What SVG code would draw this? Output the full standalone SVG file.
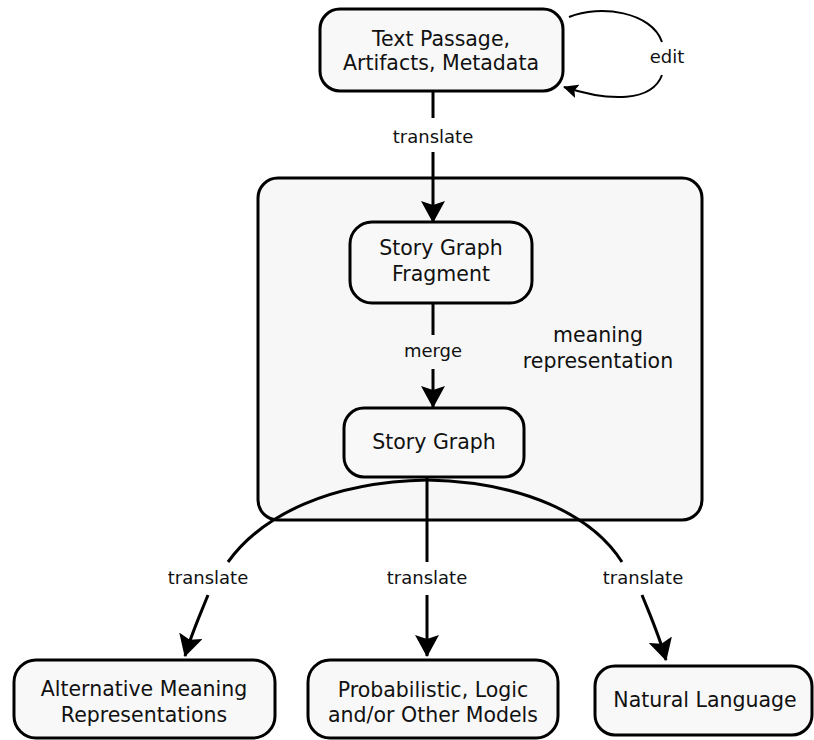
<svg xmlns="http://www.w3.org/2000/svg" width="814" height="740" viewBox="0 0 814 740">
<style>
.box{fill:#f8f8f8;stroke:#000;stroke-width:3}
.cont{fill:#f7f7f7;stroke:#000;stroke-width:3}
.nt{font-family:"DejaVu Sans",sans-serif;font-size:20.5px;fill:#111;text-anchor:middle}
.lb{font-family:"DejaVu Sans",sans-serif;font-size:18px;fill:#111;text-anchor:middle}
.ed{fill:none;stroke:#000;stroke-width:3}
.ed2{fill:none;stroke:#000;stroke-width:2}
</style>
<defs>
<marker id="ah" markerUnits="userSpaceOnUse" viewBox="0 0 22 24" markerWidth="22" markerHeight="24" refX="21" refY="12" orient="auto">
<path d="M0,0 L22,12 L0,24 L4,12 Z" fill="#000"/>
</marker>
<marker id="ahs" markerUnits="userSpaceOnUse" viewBox="0 0 15 14" markerWidth="15" markerHeight="14" refX="14" refY="7" orient="auto">
<path d="M0,0 L15,7 L0,14 L3,7 Z" fill="#000"/>
</marker>
</defs>
<g id="meaning-representation">
<rect class="cont" x="258" y="178" width="444" height="342" rx="20"/>
<text class="nt" x="598" y="342">meaning</text>
<text class="nt" x="598" y="368">representation</text>
</g>
<g id="text-passage">
<rect class="box" x="320" y="9" width="243" height="82" rx="20"/>
<text class="nt" x="441" y="46">Text Passage,</text>
<text class="nt" x="441" y="70">Artifacts, Metadata</text>
</g>
<g id="story-graph-fragment">
<rect class="box" x="350" y="222" width="182" height="81" rx="22"/>
<text class="nt" x="441" y="255">Story Graph</text>
<text class="nt" x="441" y="281">Fragment</text>
</g>
<g id="story-graph">
<rect class="box" x="344" y="408" width="180" height="69" rx="20"/>
<text class="nt" x="434" y="449">Story Graph</text>
</g>
<g id="alternative">
<rect class="box" x="14" y="660" width="261" height="78" rx="22"/>
<text class="nt" x="144" y="696">Alternative Meaning</text>
<text class="nt" x="144" y="722">Representations</text>
</g>
<g id="probabilistic">
<rect class="box" x="308" y="660" width="250" height="78" rx="22"/>
<text class="nt" x="433" y="697">Probabilistic, Logic</text>
<text class="nt" x="433" y="722">and/or Other Models</text>
</g>
<g id="natural-language">
<rect class="box" x="595" y="666" width="217" height="69" rx="20"/>
<text class="nt" x="705" y="707">Natural Language</text>
</g>
<g id="connectors">
<path class="ed2" d="M569,17 C600,4 652,12 662,42"/>
<path class="ed2" d="M662,75 C652,102 610,102 564,87" marker-end="url(#ahs)"/>
<text class="lb" x="667" y="63">edit</text>
<path class="ed" d="M433,91 L433,118"/>
<text class="lb" x="433" y="143">translate</text>
<path class="ed" d="M433,152 L433,222" marker-end="url(#ah)"/>
<path class="ed" d="M433,303 L433,335"/>
<text class="lb" x="433" y="357">merge</text>
<path class="ed" d="M433,369 L433,407" marker-end="url(#ah)"/>
<path class="ed" d="M427,480 C330,482 262,515 228,562"/>
<path class="ed" d="M427,480 C524,482 592,515 622,562"/>
<path class="ed" d="M427,477 L427,562"/>
<text class="lb" x="208" y="584">translate</text>
<text class="lb" x="427" y="584">translate</text>
<text class="lb" x="643" y="584">translate</text>
<path class="ed" d="M208,595 C200,615 191,635 185,656" marker-end="url(#ah)"/>
<path class="ed" d="M427,595 L427,656" marker-end="url(#ah)"/>
<path class="ed" d="M642,595 C650,615 659,635 666,660" marker-end="url(#ah)"/>
</g>
</svg>
